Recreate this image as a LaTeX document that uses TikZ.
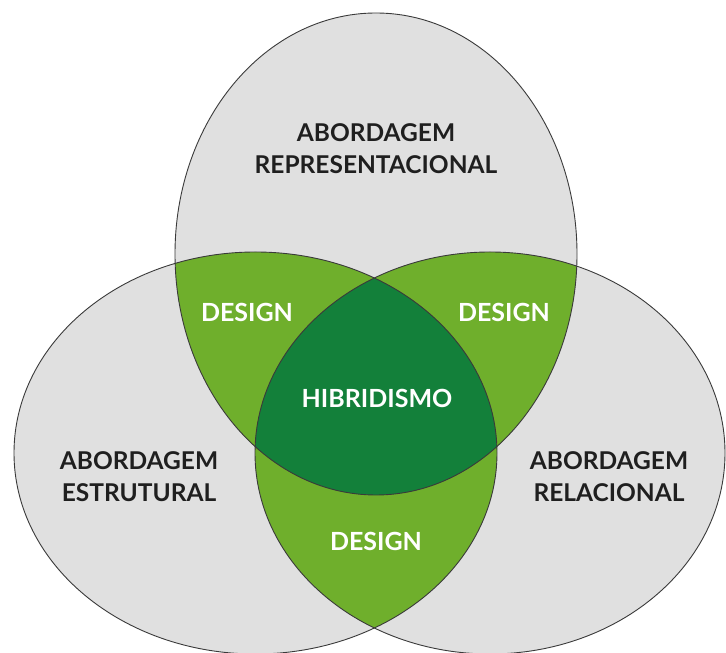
\documentclass[tikz,border=0pt]{standalone}
\usepackage{fontspec}
\setmainfont{Lato}
\usepackage{xcolor}
\usetikzlibrary{positioning}
\definecolor{setgray}{HTML}{E0E0E0}
\definecolor{designgreen}{HTML}{6FAF2C}
\definecolor{hybridgreen}{HTML}{13803A}
\definecolor{rimgray}{HTML}{3A3A3A}
\tikzset{%
	setfill/.style  = {fill=setgray}, % sets
	pairfill/.style = {fill=designgreen}, % two sets
	corefill/.style = {fill=hybridgreen}, % all three
	rimline/.style  = {draw=rimgray, line width=0.9pt},
	approach/.style = {align=center, text=black!88, font=\bfseries\fontsize{24.5}{32}\selectfont},
	overlap/.style  = {text=white, font=\bfseries\fontsize{25}{28}\selectfont},
}
\newcommand\reprset{(376,399) ellipse [x radius=201pt, y radius=241pt]}
\newcommand\structset{(255.5,200) ellipse [x radius=241.5pt, y radius=201pt]}
\newcommand\relset{(490,200) ellipse [x radius=235pt, y radius=201pt]}

\begin{document}
\begin{tikzpicture}[x=1pt,y=1pt]
		\useasboundingbox (0,0) rectangle (726,653);
		% sets
		\fill[setfill] \reprset;
		\fill[setfill] \structset;
		\fill[setfill] \relset;
		% pairwise overlaps
		\begin{scope}
			\clip \reprset;
			\fill[pairfill] \structset;
			\fill[pairfill] \relset;
		\end{scope}
		\begin{scope}
			\clip \structset;
			\fill[pairfill] \relset;
		\end{scope}
		% core
		\begin{scope}
			\clip \reprset;
			\clip \structset;
			\fill[corefill] \relset;
		\end{scope}
		% outlines
		\draw[rimline] \reprset;
		\draw[rimline] \structset;
		\draw[rimline] \relset;
		% labels
		\node[approach] (repr) at (376,504) {ABORDAGEM\\REPRESENTACIONAL};
		\node[approach] (struct) at (139,176) {ABORDAGEM\\ESTRUTURAL};
		\node[approach] (rel) at (609,176) {ABORDAGEM\\RELACIONAL};
		\node[overlap] (dleft) at (247,341) {DESIGN};
		\node[overlap] (dright) at (504,341) {DESIGN};
		\node[overlap] (dbottom) at (376,112) {DESIGN};
		\node[overlap] (hybrid) at (377,255) {HIBRIDISMO};
\end{tikzpicture}
\end{document}
